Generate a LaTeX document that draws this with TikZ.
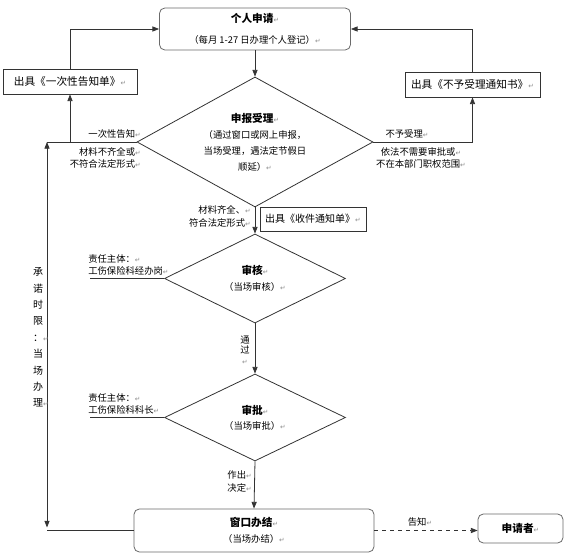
\documentclass[tikz,border=0pt]{standalone}
\usepackage{fontspec}
\usepackage{xcolor}
\usepackage{tikz}
\usetikzlibrary{positioning, shapes.geometric, arrows.meta, calc}
\newfontfamily\cjk{Noto Sans CJK SC}
\newfontfamily\markfont{DejaVu Sans}
\definecolor{flowline}{HTML}{333333}
\definecolor{boxline}{HTML}{6a6a6a}
\definecolor{retgray}{HTML}{8a8a8a}
\newcommand{\retmark}{{\markfont\fontsize{5}{5}\selectfont\color{retgray}↵}}
\newcommand{\boxtitle}[1]{{\fontsize{8}{9}\selectfont\bfseries #1}}

\begin{document}
\begin{tikzpicture}[x=0.75pt,y=-0.75pt,font=\cjk\fontsize{7}{9.5}\selectfont,
  rbx/.style={draw=boxline, line width=0.6pt, rounded corners=4pt, align=center, inner sep=2pt},
  sbx/.style={draw=flowline, line width=0.6pt, align=center, inner sep=2pt, font=\cjk\fontsize{8}{9}\selectfont},
  dia/.style={draw=flowline, line width=0.6pt, diamond, aspect=1.8, inner sep=1pt, align=center},
  lbl/.style={inner sep=0pt, align=center},
  ln/.style={flowline, line width=0.6pt},
  arr/.style={ln, -{Triangle[length=5pt,width=3.8pt]}}]
\useasboundingbox (0,0) rectangle (565,555);

\node[rbx, minimum width=143.25pt, minimum height=31.5pt] (apply) at (255,29) {\boxtitle{个人申请}\retmark\\[6pt]（每月 1-27 日办理个人登记）\retmark};
\node[sbx, minimum width=100.5pt, minimum height=18.75pt] (onceNote) at (70,81.5) {出具《一次性告知单》\retmark};
\node[sbx, minimum width=101.25pt, minimum height=18.75pt] (refuseNote) at (472.5,84.5) {出具《不予受理通知书》\retmark};
\node[dia, minimum width=177pt, minimum height=97.5pt] (accept) at (255,142) {\boxtitle{申报受理}\retmark\\[2.5pt]（通过窗口或网上申报，\\[2.5pt]当场受理，遇法定节假日\\[2.5pt]顺延）\retmark};
\node[sbx, minimum width=79.5pt, minimum height=18pt, font=\cjk\fontsize{7.5}{9}\selectfont] (receipt) at (313,219) {出具《收件通知单》\retmark};
\node[dia, aspect=2, minimum width=135.75pt, minimum height=66.75pt] (review) at (255,278.5) {\boxtitle{审核}\retmark\\[2.5pt]（当场审核）\retmark};
\node[dia, aspect=2, minimum width=135.75pt, minimum height=65.25pt] (approve) at (255,417.5) {\boxtitle{审批}\retmark\\[1.5pt]（当场审批）\retmark};
\node[rbx, minimum width=180pt, minimum height=32.25pt] (finish) at (254,530.5) {\boxtitle{窗口办结}\retmark\\[3pt]（当场办结）\retmark};
\node[rbx, minimum width=63.75pt, minimum height=21.75pt] (applicant) at (520.5,528.5) {\boxtitle{申请者}\retmark};

\coordinate (limTop) at (47,142);
\coordinate (limBot) at (47,530.5);
\coordinate (revResp) at (90,278.5);
\coordinate (apprResp) at (90,417.5);

\draw[arr] (apply.south) -- (accept.north);
\draw[arr] (accept.west) -| (onceNote.south);
\draw[ln] (accept.west) -- (limTop);
\draw[ln, {Triangle[length=5pt,width=3.8pt]}-{Triangle[length=5pt,width=3.8pt]}] (limTop) -- ($(limBot)+(0,-3)$);
\draw[ln] (finish.west) -- (limBot);
\draw[arr] (onceNote.north) |- (apply.west);
\draw[arr] (refuseNote.north) |- (apply.east);
\draw[arr] (accept.east) -| (refuseNote.south);
\draw[arr] (accept.south) -- (review.north);
\draw[arr] (review.south) -- (approve.north);
\draw[arr] (approve.south) -- (finish.north);
\draw[arr, dashed] (finish.east) -- (finish.east -| applicant.west);
\draw[ln] (review.west) -- (revResp);
\draw[ln] (approve.west) -- (apprResp);

\node[lbl, anchor=east] (onceLbl) at (141,134) {一次性告知\retmark};
\node[lbl, anchor=north east, align=right] (lackLbl) at (141,147) {材料不齐全或\retmark\\不符合法定形式\retmark};
\node[lbl] (refuseLbl) at (407,134) {不予受理\retmark};
\node[lbl, anchor=north] (scopeLbl) at (421,147) {依法不需要审批或\retmark\\不在本部门职权范围\retmark};
\node[lbl, anchor=east, align=right] (fullLbl) at (251,216.5) {材料齐全、\retmark\\符合法定形式\retmark};
\node[lbl, anchor=south west, align=left] (revWho) at (88,276) {责任主体：\retmark\\工伤保险科经办岗\retmark};
\node[lbl, anchor=south west, align=left] (apprWho) at (88,415) {责任主体：\retmark\\工伤保险科科长\retmark};
\node[lbl, font=\cjk\fontsize{7}{8}\selectfont] (passLbl) at (245,350) {通\\过\\\retmark};
\node[lbl, anchor=east, align=right] (decideLbl) at (252,481.5) {作出\retmark\\决定\retmark};
\node[lbl, anchor=south] (tellLbl) at (420,527) {告知\retmark};
\node[lbl, font=\cjk\fontsize{7.5}{12.3}\selectfont] (limitLbl) at (38,337.5) {承\\诺\\时\\限\\：\rlap{\retmark}\\当\\场\\办\\理\rlap{\retmark}};

\end{tikzpicture}
\end{document}
